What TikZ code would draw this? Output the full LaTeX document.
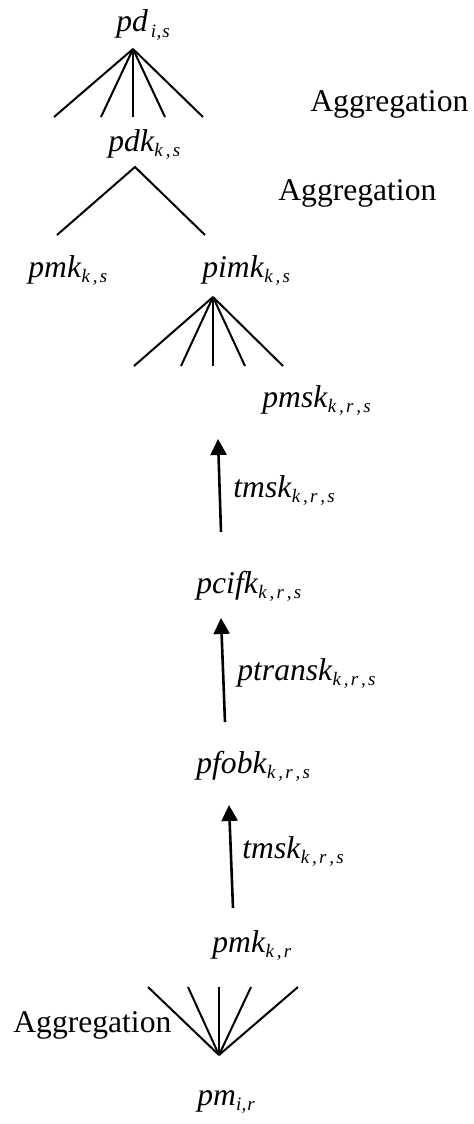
\documentclass[tikz,border=0pt]{standalone}
\usepackage{fontspec}
\setmainfont{Liberation Serif}
\usetikzlibrary{arrows.meta}
\newcommand{\sbs}[1]{\raisebox{-0.18em}{\fontsize{9.5}{10}\selectfont\itshape #1}}
\newcommand{\cm}{\kern0.15em,\kern0.12em}
\newcommand{\cmi}{\kern0.02em,\kern0.05em}
\begin{document}
\begin{tikzpicture}[x=0.5pt,y=-0.5pt,
  lbl/.style={inner sep=0,anchor=base west,font=\fontsize{15.8}{19}\selectfont},
  fan/.style={line width=1pt},
  up/.style={line width=1.3pt,-{Triangle[length=8pt,width=8pt]}}]
\useasboundingbox (0,0) rectangle (473,1124);
% labels
\node[lbl] (pd) at (116,32) {\textit{pd}\sbs{\kern0.15em i\cmi s}};
\node[lbl] (agg1) at (310,111) {Aggregation};
\node[lbl] (pdk) at (108,151) {\textit{pdk}\sbs{k\cm s}};
\node[lbl] (agg2) at (278,200) {Aggregation};
\node[lbl] (pmks) at (28,277) {\textit{pmk}\sbs{k\cm s}};
\node[lbl] (pimk) at (202,277) {\textit{pimk}\sbs{k\cm s}};
\node[lbl] (pmsk) at (262,407) {\textit{pmsk}\sbs{k\cm r\cm s}};
\node[lbl] (tmsk1) at (233,497) {\textit{tmsk}\sbs{k\cm r\cm s}};
\node[lbl] (pcifk) at (196,593) {\textit{pcifk}\sbs{k\cm r\cm s}};
\node[lbl] (ptransk) at (237,680) {\textit{ptransk}\sbs{k\cm r\cm s}};
\node[lbl] (pfobk) at (196,773) {\textit{pfobk}\sbs{k\cm r\cm s}};
\node[lbl] (tmsk2) at (242,858) {\textit{tmsk}\sbs{k\cm r\cm s}};
\node[lbl] (pmkr) at (212,952) {\textit{pmk}\sbs{k\cm r}};
\node[lbl] (agg3) at (13,1032) {Aggregation};
\node[lbl] (pm) at (197,1105) {\textit{pm}\sbs{i\cmi r}};
% fan 1
\coordinate (a1) at (133,49);
\foreach \x [count=\i] in {54,101,133,165,203} \coordinate (a1e\i) at (\x,117);
\foreach \i in {1,...,5} \draw[fan] (a1) -- (a1e\i);
% fan 2
\coordinate (a2) at (135,167);
\coordinate (a2l) at (57,235);
\coordinate (a2r) at (205,235);
\draw[fan] (a2l) -- (a2) -- (a2r);
% fan 3
\coordinate (a3) at (213,297);
\foreach \x [count=\i] in {134,181,213,245,283} \coordinate (a3e\i) at (\x,366);
\foreach \i in {1,...,5} \draw[fan] (a3) -- (a3e\i);
% arrows
\coordinate (t1) at (221,532); \coordinate (h1) at (218,439);
\coordinate (t2) at (225,722); \coordinate (h2) at (221,618);
\coordinate (t3) at (233,908); \coordinate (h3) at (229,805);
\draw[up] (t1) -- (h1);
\draw[up] (t2) -- (h2);
\draw[up] (t3) -- (h3);
% fan 4
\coordinate (a4) at (219,1055);
\foreach \x [count=\i] in {148,188,219,251,298} \coordinate (a4e\i) at (\x,987);
\foreach \i in {1,...,5} \draw[fan] (a4) -- (a4e\i);
\end{tikzpicture}
\end{document}
